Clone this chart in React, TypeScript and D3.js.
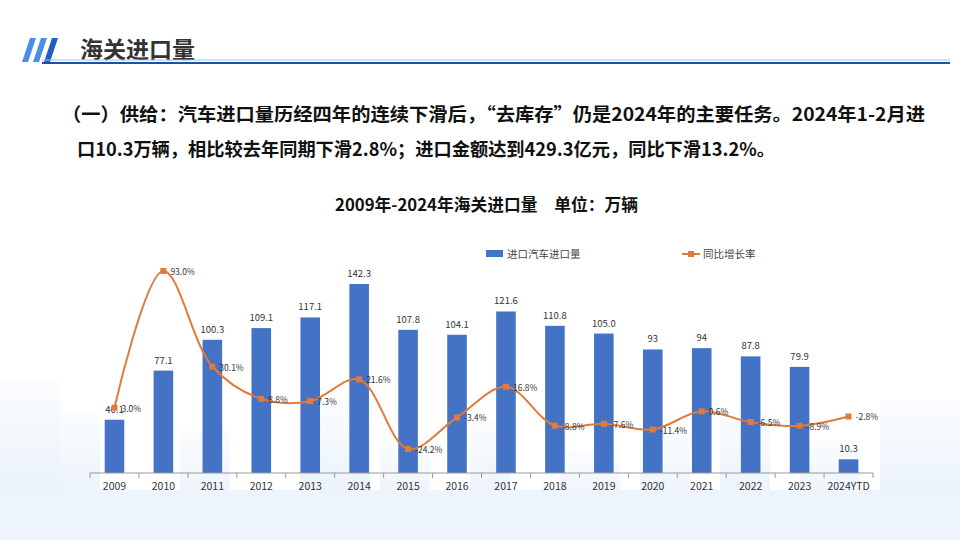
import React from "react";
import * as d3 from "d3";

const years = ["2009","2010","2011","2012","2013","2014","2015","2016","2017","2018","2019","2020","2021","2022","2023","2024YTD"];
const volume = [40.1,77.1,100.3,109.1,117.1,142.3,107.8,104.1,121.6,110.8,105.0,93,94,87.8,79.9,10.3];
const volumeLabels = ["40.1","77.1","100.3","109.1","117.1","142.3","107.8","104.1","121.6","110.8","105.0","93","94","87.8","79.9","10.3"];
const growth = [3.0,93.0,30.1,8.8,7.3,21.6,-24.2,-3.4,16.8,-8.8,-7.6,-11.4,0.6,-6.5,-8.9,-2.8];
const growthLabels = ["3.0%","93.0%","30.1%","8.8%","7.3%","21.6%","-24.2%","-3.4%","16.8%","-8.8%","-7.6%","-11.4%","0.6%","-6.5%","-8.9%","-2.8%"];
const skyline = [[0,380,60],[60,410,40],[180,430,50],[300,400,70],[380,440,50],[470,420,40],[560,450,60],[640,430,50],[720,410,50],[800,440,60],[880,400,80]];

export default function App() {
  const x = d3.scaleBand().domain(years).range([90, 873]).paddingInner(0.6).paddingOuter(0.3);
  const y = d3.scaleLinear().domain([0, 142.3]).range([473, 284]);
  const y2 = d3.scaleLinear().domain([-24.2, 93]).range([449, 271]);
  const cx = (d: string) => (x(d) as number) + x.bandwidth() / 2;
  const line = d3.line<number>().x((_, i) => cx(years[i])).y(d => y2(d)).curve(d3.curveCatmullRom.alpha(0.5));
  const step = x.step();
  const font = "'Noto Sans CJK SC', 'Noto Sans', sans-serif";
  return (
    <svg width={960} height={540} style={{ position: "absolute", left: 0, top: 0 }} fontFamily={font}>
      <rect width={960} height={540} fill="#fff" />
      <defs>
        <linearGradient id="sky" x1="0" y1="0" x2="0" y2="1">
          <stop offset="0" stopColor="#e8f1fb" stopOpacity={0.2} />
          <stop offset="1" stopColor="#dce9f8" stopOpacity={0.9} />
        </linearGradient>
      </defs>
      {skyline.map(([sx, sy, w], i) => (
        <rect key={i} x={sx} y={sy} width={w} height={540 - sy} fill="url(#sky)" />
      ))}
      <rect x={0} y={490} width={960} height={50} fill="#eef4fb" />
      {[0, 1, 2].map(i => (
        <polygon key={i} points={`${22 + i * 11},62 ${30 + i * 11},38 ${36 + i * 11},38 ${28 + i * 11},62`} fill={i === 2 ? "#1f5fc4" : "#4a90e2"} />
      ))}
      <text x={80} y={58} fontSize={23} fontWeight="bold" fill="#333">海关进口量</text>
      <line x1={42} x2={950} y1={63} y2={63} stroke="#1f4fa0" strokeWidth={2} />
      <line x1={42} x2={950} y1={60} y2={60} stroke="#9cc3ee" strokeWidth={1} />
      <text x={62} y={121} fontSize={18.5} fontWeight="bold" fill="#111" textLength={863} lengthAdjust="spacingAndGlyphs">（一）供给：汽车进口量历经四年的连续下滑后，“去库存”仍是2024年的主要任务。2024年1-2月进</text>
      <text x={77} y={156} fontSize={18.5} fontWeight="bold" fill="#111" textLength={698} lengthAdjust="spacingAndGlyphs">口10.3万辆，相比较去年同期下滑2.8%；进口金额达到429.3亿元，同比下滑13.2%。</text>
      <text x={335} y={211} fontSize={16.5} fontWeight="bold" fill="#111" textLength={303} lengthAdjust="spacingAndGlyphs">2009年-2024年海关进口量　单位：万辆</text>
      <rect x={486} y={250} width={17} height={7} fill="#4472c4" />
      <text x={507} y={258} fontSize={10.5} fill="#444">进口汽车进口量</text>
      <line x1={682} x2={700} y1={254} y2={254} stroke="#e07b39" strokeWidth={2} />
      <rect x={688} y={251} width={6} height={6} fill="#e07b39" />
      <text x={703} y={258} fontSize={10.5} fill="#444">同比增长率</text>
      {years.map((d, i) => (
        <g key={d}>
          <rect x={x(d)} y={y(volume[i])} width={x.bandwidth()} height={473 - y(volume[i])} fill="#4472c4" />
          <text x={cx(d)} y={y(volume[i]) - 7} fontSize={9.5} fill="#333" textAnchor="middle">{volumeLabels[i]}</text>
          <text x={cx(d)} y={490} fontSize={10.5} fill="#333" textAnchor="middle">{d}</text>
          <line x1={cx(d) - step / 2} x2={cx(d) - step / 2} y1={473} y2={478} stroke="#999" />
        </g>
      ))}
      <line x1={cx(years[15]) + step / 2} x2={cx(years[15]) + step / 2} y1={473} y2={478} stroke="#999" />
      <line x1={90} x2={873} y1={473} y2={473} stroke="#999" />
      <path d={line(growth) || ""} fill="none" stroke="#e07b39" strokeWidth={2} />
      {years.map((d, i) => (
        <g key={"g" + d}>
          <rect x={cx(d) - 3} y={y2(growth[i]) - 3} width={6} height={6} fill="#e07b39" />
          <text x={cx(d) + 7} y={y2(growth[i]) + 4} fontSize={8.5} fill="#333">{growthLabels[i]}</text>
        </g>
      ))}
    </svg>
  );
}
